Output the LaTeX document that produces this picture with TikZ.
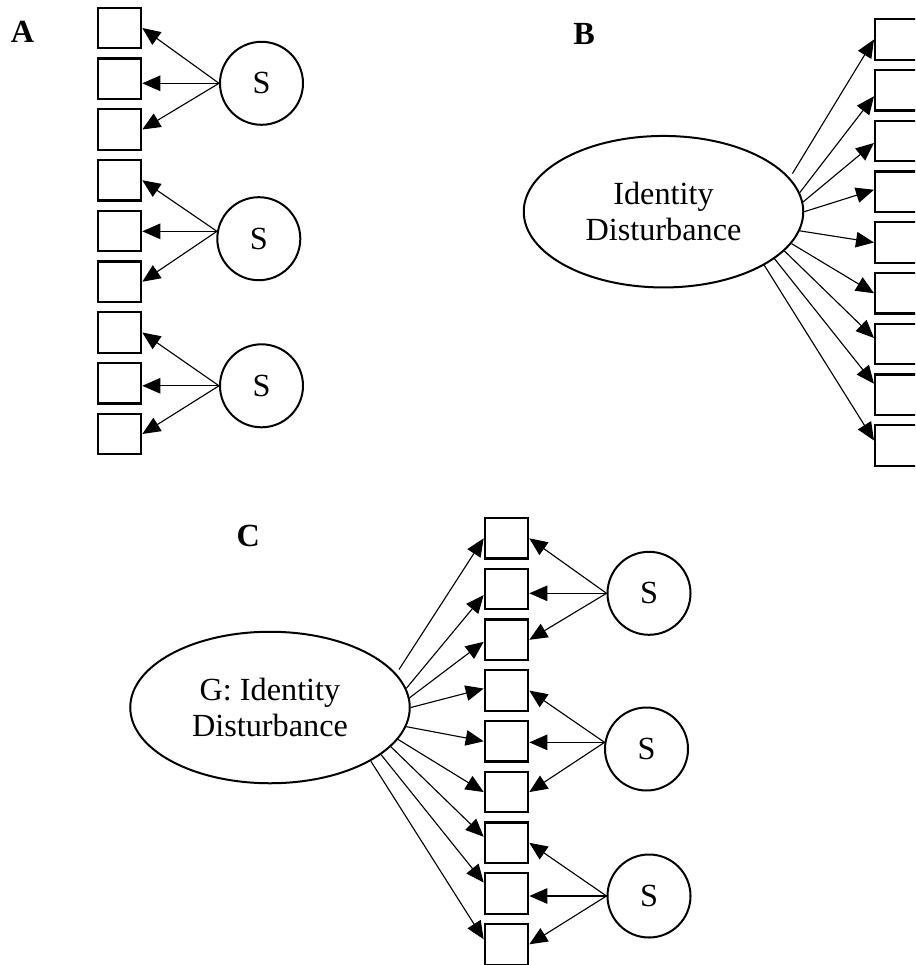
\documentclass[tikz,border=0pt]{standalone}
\usepackage{fontspec}
\setmainfont{Liberation Serif}
\usetikzlibrary{arrows.meta,positioning,shapes.geometric}

\begin{document}
\begin{tikzpicture}[
    x=0.4pt, y=-0.4pt,
    font=\fontsize{12.9}{14.4}\selectfont,
    item/.style={rectangle, draw, line width=0.85pt, inner sep=0pt, minimum width=17.4pt, minimum height=16.2pt},
    spec/.style={circle, draw, line width=0.8pt, inner sep=0pt, minimum size=33.2pt},
    gen/.style={ellipse, draw, line width=0.8pt, inner sep=0pt, minimum width=111.8pt, minimum height=60.6pt, align=center},
    panel/.style={font=\fontsize{12.9}{14.4}\selectfont\bfseries},
    arrow/.style={-{Triangle[length=7.2pt, width=6.2pt]}, line width=0.45pt}
  ]
    \useasboundingbox (0,0) rectangle (915,965);
    \clip (0,0) rectangle (915,965);

    % A: specific factors only
    \node[panel] (labA) at (22.5,32) {A};
    \foreach \i in {1,...,9}
      \node[item] (a\i) at (119.5,{28+50.75*(\i-1)}) {};
    \node[spec] (sa1) at (261.5,83.3) {S};
    \node[spec] (sa2) at (258.8,238.7) {S};
    \node[spec] (sa3) at (261.5,385.8) {S};

    % B: one general factor
    \node[panel] (labB) at (584.2,34.2) {B};
    \node[gen] (idb) at (663.5,211.7) {Identity\\Disturbance};
    \foreach \i in {1,...,9}
      \node[item] (b\i) at (896.8,{39.5+50.75*(\i-1)}) {};

    % C: bifactor
    \node[panel] (labC) at (248.3,535.5) {C};
    \node[gen] (idc) at (270,707.5) {G: Identity\\Disturbance};
    \foreach \i in {1,...,9}
      \node[item] (c\i) at (506.5,{538.3+50.75*(\i-1)}) {};
    \node[spec] (sc1) at (649,593.3) {S};
    \node[spec] (sc2) at (646.5,749) {S};
    \node[spec] (sc3) at (649,896) {S};

    % specific loadings
    \foreach \s/\t/\m/\b/\an in {sa1/a1/a2/a3/180, sa2/a4/a5/a6/170, sa3/a7/a8/a9/180,
                                 sc1/c1/c2/c3/180, sc2/c4/c5/c6/171, sc3/c7/c8/c9/180} {
      \draw[arrow] (\s.\an) -- (\t.east);
      \draw[arrow] (\s.\an) -- (\m.east |- \s.\an);
      \draw[arrow] (\s.\an) -- (\b.east);
    }

    % general loadings
    \foreach \g/\p in {idb/b, idc/c}
      \foreach \i/\a/\dy/\sh in {1/15/0/2, 2/8/-2.4/0, 3/4/-0.8/0, 4/0/0.8/0, 5/-8.5/0/0,
                                 6/-14/0/0, 7/-18.5/2.4/0, 8/-23/4.4/0, 9/-28.5/2/0}
        \draw[arrow, shorten <=\sh pt] (\g.\a) -- ([yshift=\dy pt]\p\i.west);
\end{tikzpicture}
\end{document}
